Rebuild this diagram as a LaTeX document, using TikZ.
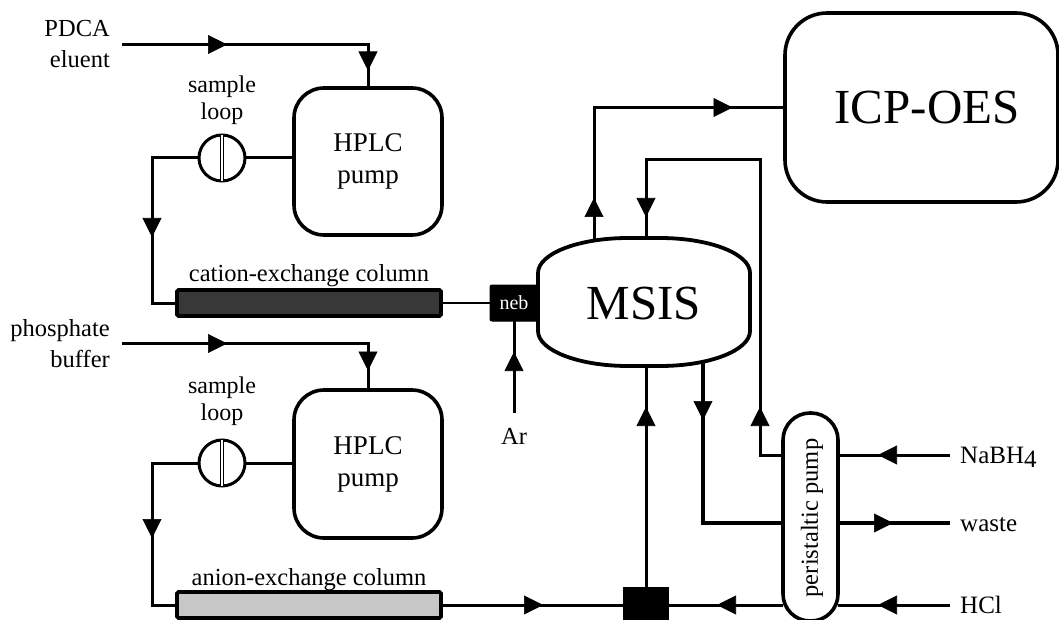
\documentclass[tikz,border=0pt]{standalone}
\usepackage{fontspec}
\setmainfont{Liberation Serif}
\usetikzlibrary{arrows.meta,decorations.markings}
\pgfdeclarelayer{paper}
\pgfdeclarelayer{pipes}
\pgfsetlayers{paper,pipes,main}
\newcommand\lbl{\fontsize{24.5}{31}\selectfont}
\newcommand\bigtxt{\fontsize{49}{49}\selectfont}
\newcommand\flowhead{\arrow{Triangle[length=19pt,width=19pt,line width=0.6pt]}}
\tikzset{
  pipe/.style={line width=3pt},
  thickpipe/.style={line width=3.8pt},
  thinpipe/.style={line width=2.3pt},
  headat/.style={postaction={decorate,decoration={markings,mark=at position #1 with {\flowhead}}}},
  headsat/.style 2 args={postaction={decorate,decoration={markings,mark=at position #1 with {\flowhead},mark=at position #2 with {\flowhead}}}},
  hplc/.style={draw,line width=3.6pt,fill=white,rounded corners=30pt,minimum width=148pt,minimum height=147pt,inner sep=0pt,outer sep=0pt,align=center,font=\fontsize{27}{32}\selectfont},
  valve/.style={circle,draw,line width=3pt,fill=white,minimum size=46pt,inner sep=0pt,outer sep=0pt},
  valvebar/.style={line width=1.1pt,double,double distance=1.6pt},
  colbar/.style={draw,line width=3.6pt,rounded corners=1.5pt,minimum width=264pt,minimum height=26pt,inner sep=0pt,outer sep=0pt},
  txt/.style={inner sep=0pt,font=\lbl},
  looptxt/.style={inner sep=0pt,align=center,font=\fontsize{24}{27}\selectfont},
  sidetxt/.style={anchor=west,inner xsep=10pt,inner ysep=0pt,text height=16pt,text depth=0pt,font=\fontsize{25}{30}\selectfont},
}
\begin{document}
\begin{tikzpicture}[x=1pt,y=-1pt]
\useasboundingbox (0,0) rectangle (1059,620);
\begin{pgfonlayer}{paper}
  \fill[white] (0,0) rectangle (1059,620);
\end{pgfonlayer}

% ---- cation line (upper branch)
\node[txt,align=right,anchor=east] (pdca) at (110,44.5) {PDCA\\eluent};
\node[hplc] (hplcA) at (368,161.5) {HPLC\\pump};
\node[valve] (loopA) at (222,158) {};
\draw[valvebar] (loopA.north) -- (loopA.south);
\node[looptxt] (sampA) at (222,100) {sample\\loop};
\node[colbar,fill=black!78] (colA) at (309,303) {};
\node[txt] (colAlab) at (309,276) {cation-exchange column};

% ---- anion line (lower branch)
\node[txt,align=right,anchor=east] (phos) at (110,343.5) {phosphate\\buffer};
\node[hplc,minimum height=148pt] (hplcB) at (368,464) {HPLC\\pump};
\node[valve] (loopB) at (222,463) {};
\draw[valvebar] (loopB.north) -- (loopB.south);
\node[looptxt] (sampB) at (222,401.5) {sample\\loop};
\node[colbar,fill=black!22] (colB) at (309,605) {};
\node[txt] (colBlab) at (309,580) {anion-exchange column};

% ---- multimode sample introduction system
\draw[line width=3.8pt,fill=white]
  (538,273) .. controls (538,253.67) and (578.29,238) .. (628,238)
  -- (660,238) .. controls (709.71,238) and (750,253.67) .. (750,273)
  -- (750,331) .. controls (750,350.33) and (709.71,366) .. (660,366)
  -- (628,366) .. controls (578.29,366) and (538,350.33) .. (538,331) -- cycle;
\node[inner sep=0pt,font=\bigtxt] (msis) at (644,303.5) {MSIS};
\node[fill=black,draw=black,line width=1pt,rounded corners=2pt,minimum width=48pt,minimum height=36pt,inner sep=0pt,outer sep=0pt,text=white,font=\fontsize{20}{20}\selectfont] (neb) at (514,303) {neb};
\node[txt] (ar) at (514,436) {Ar};

% ---- spectrometer
\node[draw,line width=3.6pt,fill=white,rounded corners=42pt,minimum width=273pt,minimum height=189pt,inner sep=0pt,outer sep=0pt,font=\bigtxt] (icp) at (921.5,107.5) {\hspace*{11pt}ICP-OES};

% ---- peristaltic pump, reagents and junction
\node[draw,line width=3.6pt,fill=white,rounded corners=27pt,minimum width=55pt,minimum height=208pt,inner sep=0pt,outer sep=0pt] (pump) at (810.5,517) {};
\node[txt] (pumplab) at (812,518) {\rotatebox{90}{peristaltic pump}};
\node[fill=black,minimum width=46pt,minimum height=36pt,inner sep=0pt,outer sep=0pt] (junc) at (646,605) {};
\node[sidetxt] (nabh) at (950,455) {NaBH\raisebox{-4pt}{4}};
\node[sidetxt] (waste) at (950,523) {waste};
\node[sidetxt] (hcl) at (950,605) {HCl};

% ---- free pipe ends and bends
\coordinate (bendA) at (152,158);
\coordinate (bendB) at (152,463);
\coordinate (arsrc) at (514,413);
\coordinate (toICP) at (594,250);
\coordinate (fromRed) at (646,250);
\coordinate (redTurn) at (760,160);
\coordinate (drain) at (703,355);
\coordinate (hgIn) at (646,355);

% ---- tubing
\begin{pgfonlayer}{pipes}
  \draw[pipe,headsat={105pt}{272pt}] ([xshift=12pt]pdca.east) -| (hplcA.north);
  \draw[pipe] (loopA.east) -- (loopA.east -| hplcA.west);
  \draw[pipe,headat=126pt] (loopA.west) -- (bendA) |- (colA.west);
  \draw[thinpipe] (colA.east) -- (neb.west);
  \draw[pipe,headat=61pt] (arsrc) -- (neb.south);
  \draw[pipe,headsat={52pt}{281pt}] (toICP) |- (icp.west);
  \draw[pipe,headsat={71pt}{489pt}] (pump.west |- nabh.west) -| (redTurn) -| (fromRed);
  \draw[pipe,headat=72pt] (nabh.west) -- (pump.east |- nabh.west);
  \draw[thickpipe,headat=65pt] (drain) |- (pump.west |- waste.west);
  \draw[thickpipe,headat=55pt] (pump.east |- waste.west) -- (waste.west);
  \draw[pipe,headat=72pt] (hcl.west) -- (pump.east |- hcl.west);
  \draw[pipe,headat=66pt] (pump.west |- hcl.west) -- (junc.east |- hcl.west);
  \draw[pipe,headat=102pt] (colB.east) -- (junc.west);
  \draw[pipe,headat=180pt] (junc.north) -- (hgIn);
  \draw[pipe,headat=122pt] (loopB.west) -- (bendB) |- (colB.west);
  \draw[pipe] (loopB.east) -- (loopB.east -| hplcB.west);
  \draw[pipe,headsat={105pt}{273pt}] ([xshift=12pt]phos.east) -| (hplcB.north);
\end{pgfonlayer}
\end{tikzpicture}
\end{document}
